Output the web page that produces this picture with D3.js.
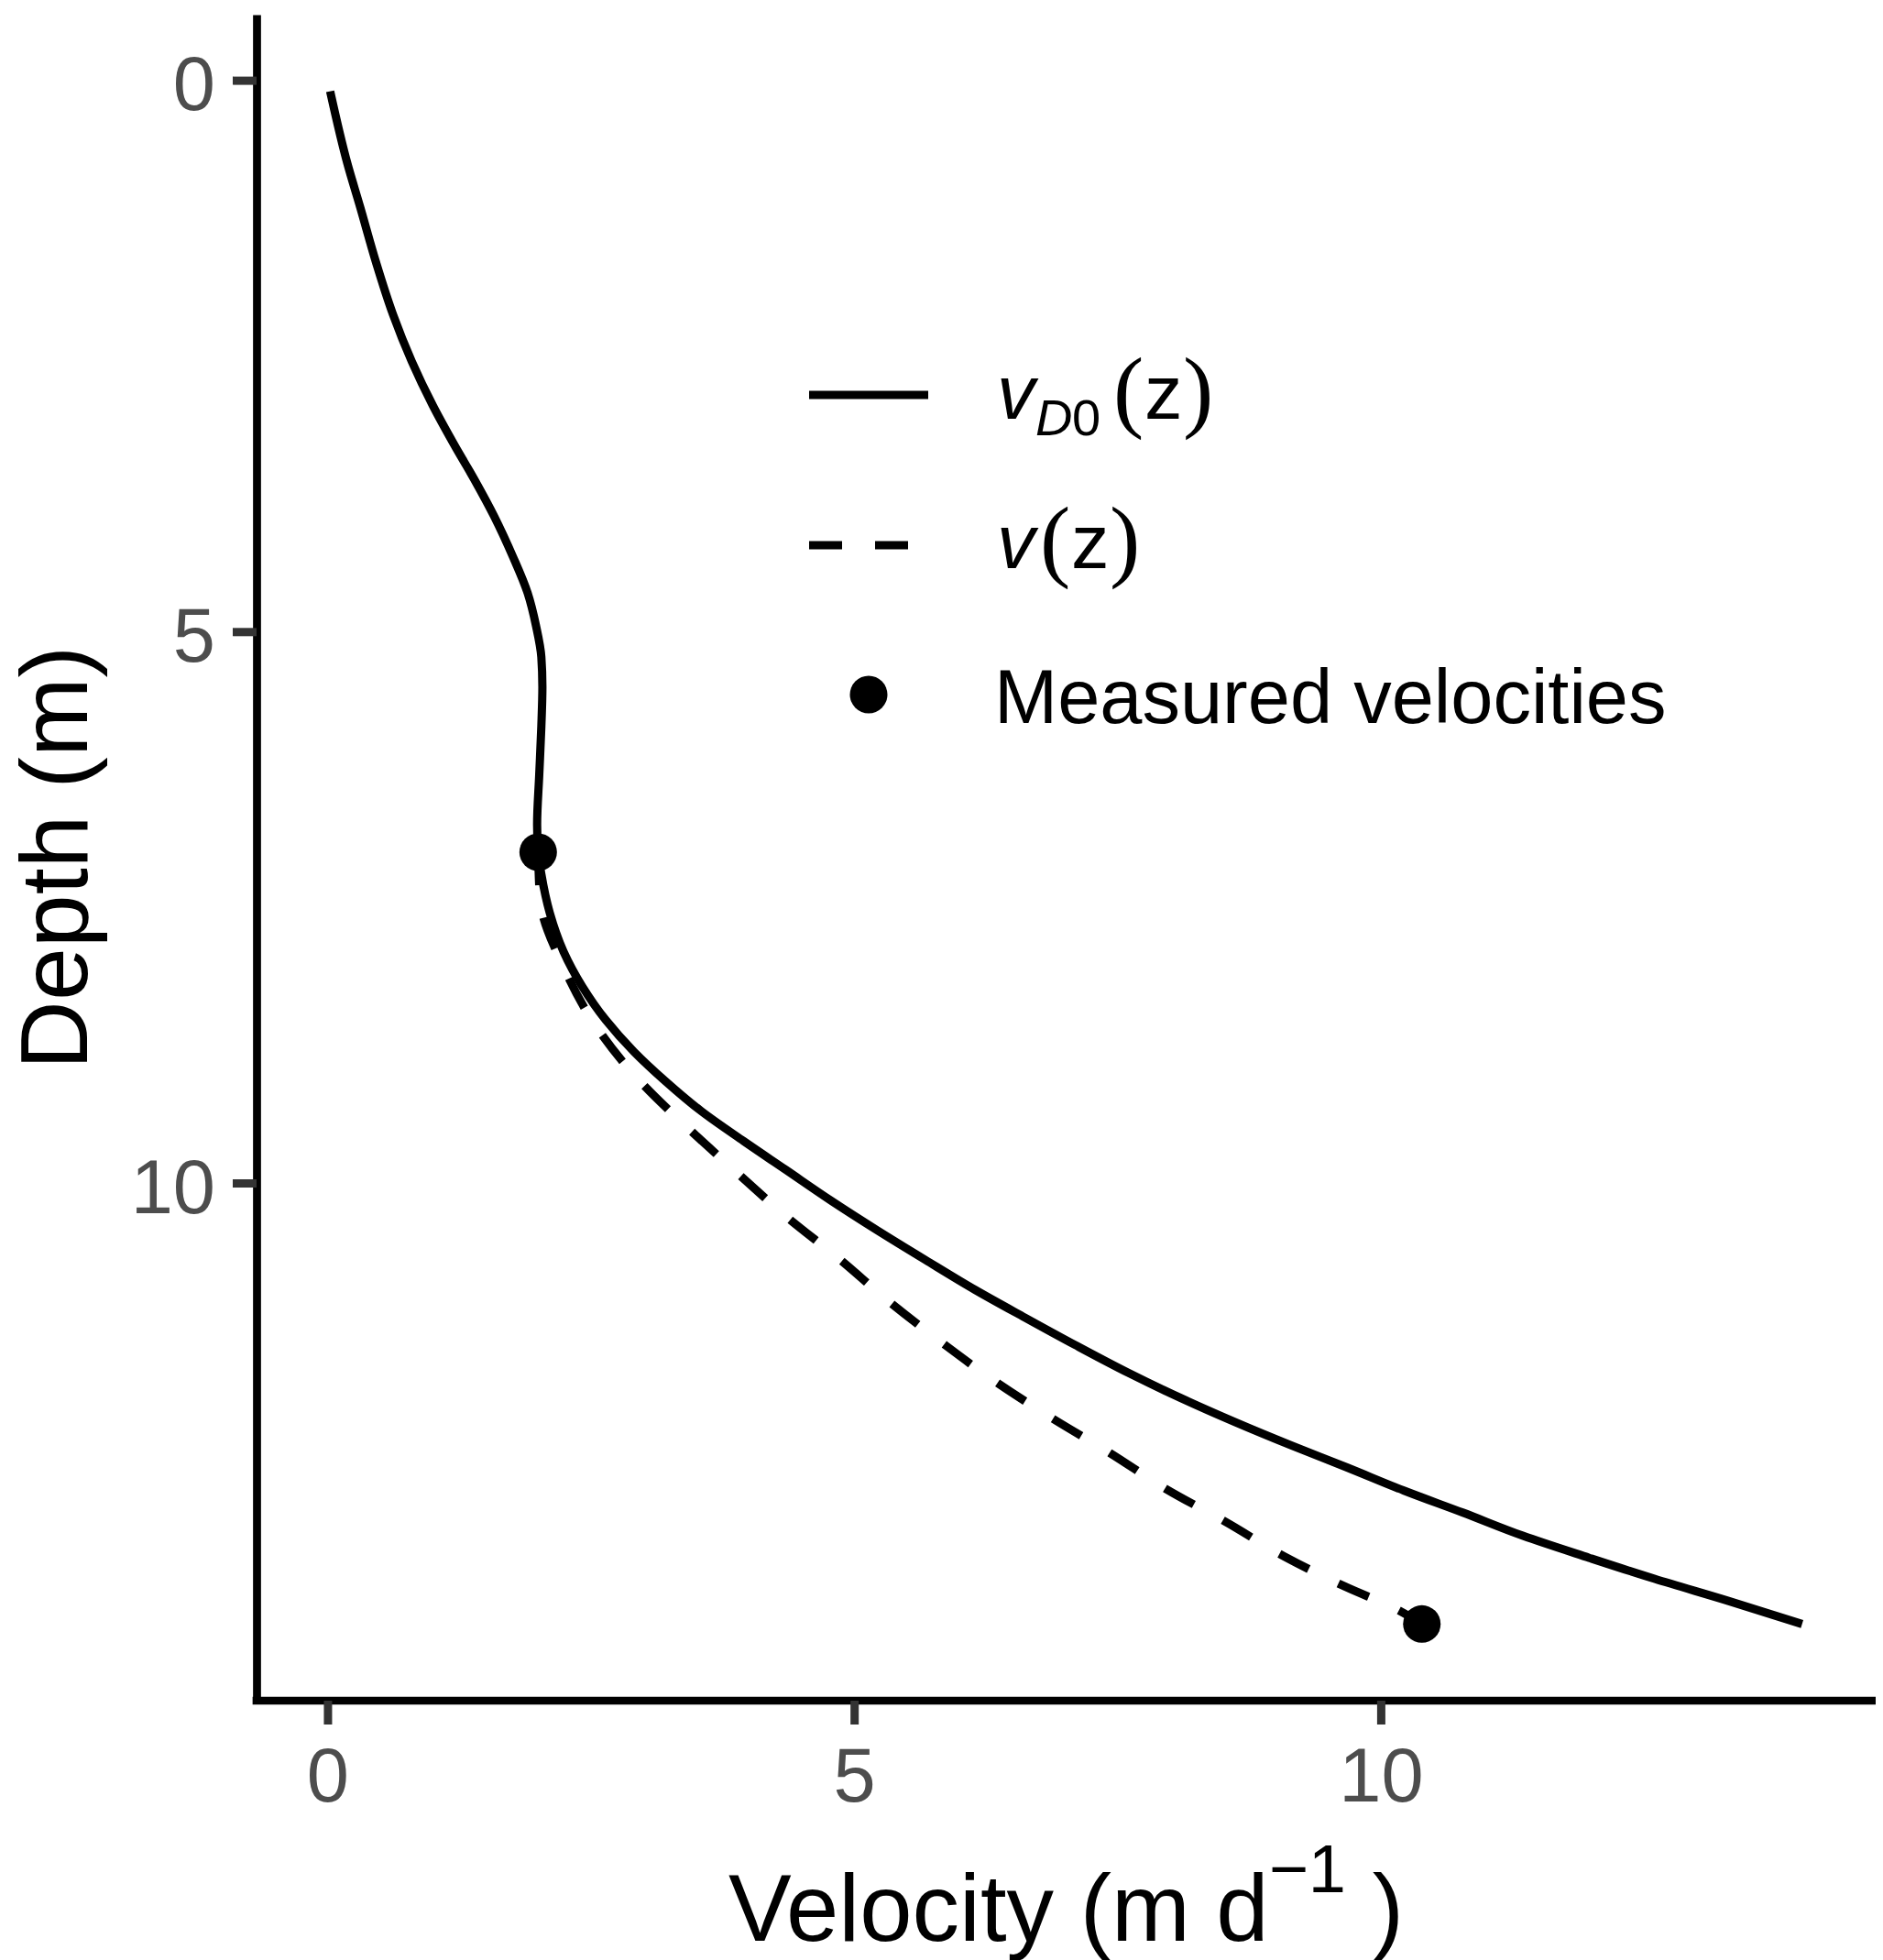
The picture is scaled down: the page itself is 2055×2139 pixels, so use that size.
<!DOCTYPE html>
<html>
<head>
<meta charset="utf-8">
<script src="https://cdn.jsdelivr.net/npm/d3@7"></script>
<style>
  html, body { margin: 0; padding: 0; background: #fff; }
  svg { display: block; }
</style>
</head>
<body>
<script>
// ---------------- DATA ----------------
// v_D0(z): velocity (m/d) vs depth (m)
const solidVelocity = [0.025, 0.19, 0.31, 0.46, 0.62, 0.80, 1.00, 1.20, 1.40, 1.58, 1.76, 1.90, 1.98, 2.03, 2.04, 2.03, 2.01, 1.99, 2.00, 2.03, 2.11, 2.24, 2.42, 2.64, 2.91, 3.20, 3.55, 3.95, 4.35, 4.78, 5.22, 5.68, 6.15, 6.62, 7.10, 7.60, 8.10, 8.62, 9.15, 9.68, 10.22, 10.78, 11.35, 11.98, 12.60, 13.30, 14.0];
const solidDepth    = [0.10, 0.76, 1.15, 1.65, 2.12, 2.55, 2.95, 3.30, 3.63, 3.95, 4.32, 4.65, 4.95, 5.23, 5.50, 5.86, 6.30, 6.75, 7.00, 7.20, 7.55, 7.90, 8.22, 8.52, 8.81, 9.07, 9.35, 9.62, 9.88, 10.16, 10.43, 10.70, 10.97, 11.22, 11.47, 11.72, 11.95, 12.17, 12.38, 12.58, 12.79, 12.99, 13.20, 13.40, 13.59, 13.79, 14.0];
// v(z)
const dashedVelocity = [2.00, 2.02, 2.24, 2.55, 2.95, 3.42, 3.88, 4.35, 4.86, 5.35, 5.85, 6.37, 6.89, 7.43, 7.97, 8.52, 9.09, 9.66, 10.18, 10.39];
const dashedDepth    = [7.00, 7.44, 8.04, 8.58, 9.06, 9.50, 9.90, 10.30, 10.69, 11.09, 11.46, 11.82, 12.14, 12.45, 12.78, 13.07, 13.39, 13.66, 13.88, 14.0];
// measured velocities
const measuredVelocity = [2.00, 10.39];
const measuredDepth    = [7.00, 14.0];

const xTicks = [0, 5, 10];
const yTicks = [0, 5, 10];
const xTitle = "Velocity (m d";
const xTitleSup = "\u22121";
const yTitle = "Depth (m)";
const legendLabel3 = "Measured velocities";

// ---------------- LAYOUT ----------------
const W = 2055, H = 2139;
const panel = { left: 280, right: 2047, top: 16, bottom: 1856 };
const FONT = "'Liberation Sans', Arial, Helvetica, sans-serif";
const SERIF = "'Liberation Serif', 'Times New Roman', serif";
const lineW = 9;
const axisW = 8.7;

const svg = d3.select("body").append("svg")
  .attr("width", W).attr("height", H)
  .attr("viewBox", `0 0 ${W} ${H}`);
svg.append("rect").attr("width", W).attr("height", H).attr("fill", "#fff");

function expand(ext, f) { const s = ext[1] - ext[0]; return [ext[0] - f * s, ext[1] + f * s]; }
const xExt = d3.extent(solidVelocity.concat(dashedVelocity, measuredVelocity));
const yExt = d3.extent(solidDepth.concat(dashedDepth, measuredDepth));

const x = d3.scaleLinear().domain(expand(xExt, 0.05)).range([panel.left, panel.right]);
const y = d3.scaleLinear().domain(expand(yExt, 0.05)).range([panel.top, panel.bottom]);

const line = d3.line().x(d => x(d[0])).y(d => y(d[1])).curve(d3.curveMonotoneY);

const solidPts = solidVelocity.map((v, i) => [v, solidDepth[i]]);
const dashedPts = dashedVelocity.map((v, i) => [v, dashedDepth[i]]);
const measPts = measuredVelocity.map((v, i) => [v, measuredDepth[i]]);

svg.append("path").datum(solidPts).attr("d", line)
  .attr("fill", "none").attr("stroke", "#000").attr("stroke-width", lineW)
  .attr("stroke-linecap", "butt").attr("stroke-linejoin", "round");
svg.append("path").datum(dashedPts).attr("d", line)
  .attr("fill", "none").attr("stroke", "#000").attr("stroke-width", lineW)
  .attr("stroke-dasharray", "36,36")
  .attr("stroke-linecap", "butt").attr("stroke-linejoin", "round");
svg.selectAll("circle.meas").data(measPts).enter().append("circle")
  .attr("class", "meas")
  .attr("cx", d => x(d[0])).attr("cy", d => y(d[1])).attr("r", 20.5)
  .attr("fill", "#000");

// ---------------- AXES ----------------
const yAxis = d3.axisLeft(y).tickValues(yTicks).tickSize(26).tickSizeOuter(0).tickPadding(19);
const gy = svg.append("g").attr("transform", `translate(${panel.left},0)`).call(yAxis);
const xAxis = d3.axisBottom(x).tickValues(xTicks).tickSize(26).tickSizeOuter(0).tickPadding(25);
const gx = svg.append("g").attr("transform", `translate(0,${panel.bottom})`).call(xAxis);

[gx, gy].forEach(g => {
  g.select(".domain").attr("stroke", "#000").attr("stroke-width", axisW).attr("stroke-linecap", "butt");
  g.selectAll(".tick line").attr("stroke", "#333333").attr("stroke-width", 9);
  g.selectAll(".tick text").attr("fill", "#4D4D4D").attr("font-size", 83).attr("font-family", FONT);
});
gy.selectAll(".tick text").attr("dy", "0.386em");
gx.selectAll(".tick text").attr("dy", "0.71em");
gx.select(".domain").attr("d", `M${panel.left - axisW / 2},0H${panel.right}`);

// Axis titles
const xt = svg.append("text")
  .attr("x", (panel.left + panel.right) / 2).attr("y", 2118)
  .attr("text-anchor", "middle").attr("font-family", FONT).attr("font-size", 103).attr("fill", "#000");
xt.append("tspan").text(xTitle);
xt.append("tspan").attr("font-size", 74).attr("dy", -53).text(xTitleSup);
xt.append("tspan").attr("dy", 53).text("\u00a0)");

svg.append("text")
  .attr("transform", `translate(95,${(panel.top + panel.bottom) / 2}) rotate(-90)`)
  .attr("text-anchor", "middle").attr("font-family", FONT).attr("font-size", 104).attr("fill", "#000")
  .text(yTitle);

// ---------------- LEGEND ----------------
const keyX0 = 883, keyX1 = 1013;
const rowY = [431, 595, 758];
const lblX = 1088;
const lg = svg.append("g");

lg.append("line").attr("x1", keyX0).attr("x2", keyX1).attr("y1", rowY[0]).attr("y2", rowY[0])
  .attr("stroke", "#000").attr("stroke-width", lineW);
lg.append("line").attr("x1", keyX0).attr("x2", keyX1).attr("y1", rowY[1]).attr("y2", rowY[1])
  .attr("stroke", "#000").attr("stroke-width", lineW).attr("stroke-dasharray", "36,36");
lg.append("circle").attr("cx", (keyX0 + keyX1) / 2).attr("cy", rowY[2]).attr("r", 20.5).attr("fill", "#000");

// math labels: one text element each, pieces laid side by side without overlap
function mathLabel(yb, parts) {
  const t = lg.append("text").attr("y", yb)
    .attr("font-family", FONT).attr("font-size", 83).attr("fill", "#000");
  parts.forEach(p => {
    const s = t.append("tspan").attr("x", lblX + p.dx).attr("y", yb + (p.dy || 0)).text(p.t);
    if (p.italic) s.attr("font-style", "italic");
    if (p.size) s.attr("font-size", p.size);
    if (p.family) s.attr("font-family", p.family);
  });
  return t;
}
const b1 = rowY[0] + 26;
mathLabel(b1, [
  { t: "v", dx: 0, italic: true },
  { t: "D", dx: 42, dy: 18, italic: true, size: 56 },
  { t: "0", dx: 82, dy: 18, size: 56 },
  { t: "(", dx: 127, dy: 2, family: SERIF, size: 100 },
  { t: "z", dx: 161 },
  { t: ")", dx: 203, dy: 2, family: SERIF, size: 100 }
]);
const b2 = rowY[1] + 25;
mathLabel(b2, [
  { t: "v", dx: 0, italic: true },
  { t: "(", dx: 47, dy: 2, family: SERIF, size: 100 },
  { t: "z", dx: 81 },
  { t: ")", dx: 123, dy: 2, family: SERIF, size: 100 }
]);

lg.append("text").attr("x", lblX - 3).attr("y", rowY[2] + 31)
  .attr("font-family", FONT).attr("font-size", 83).attr("fill", "#000")
  .text(legendLabel3);
</script>
</body>
</html>
